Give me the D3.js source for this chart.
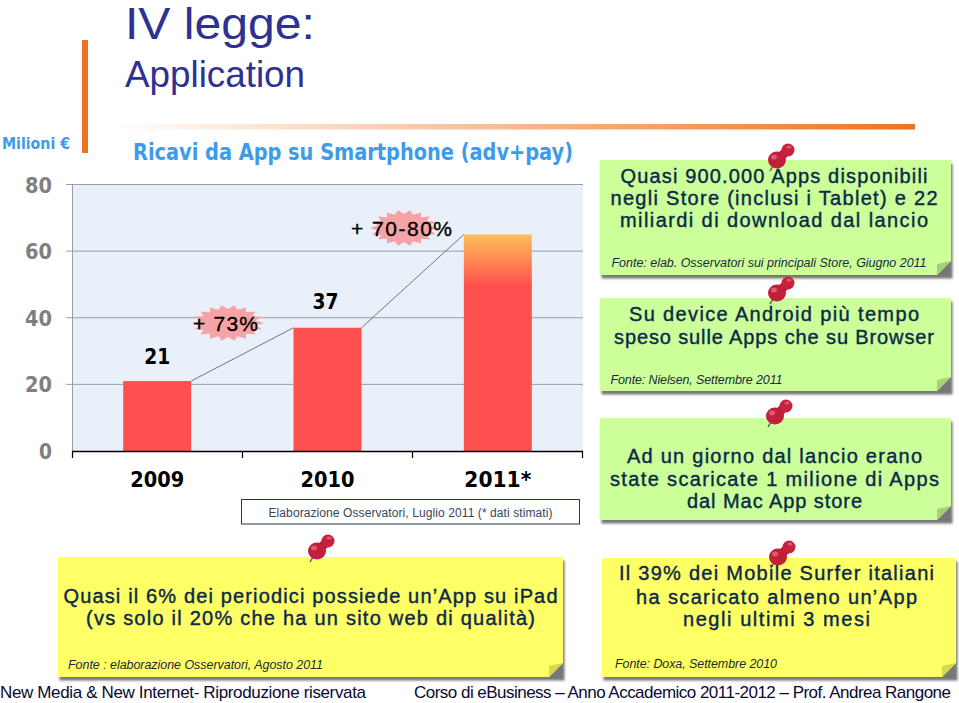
<!DOCTYPE html>
<html><head><meta charset="utf-8">
<script src="https://cdn.jsdelivr.net/npm/d3@7/dist/d3.min.js"></script>
<style>html,body{margin:0;padding:0;background:#fff}svg{display:block}text{font-family:"Liberation Sans",Arial,sans-serif}</style>
</head><body><div id="c"></div>
<script>
const years=["2009","2010","2011*"];
const revenues=[21,37,65];
const barLabels=["21","37",""];
const yTicks=[0,20,40,60,80];
const growth=[{t:"+ 73%",x:228,y:323,r:36,ry:18,tx:225.5,tl:65},{t:"+ 70-80%",x:404,y:228,r:34,ry:18,tx:401.5,tl:101}];
const notes=[
{x:600,y:160,w:351,h:115,c:"#ccff99",f:"#a8cf78",lines:["Quasi 900.000 Apps disponibili","negli Store (inclusi i Tablet) e 22","miliardi di download dal lancio"],ly:[182.5,205,227],cx:774,src:"Fonte: elab. Osservatori sui principali Store, Giugno 2011",sx:611.5,sy:267,sl:315,pin:[781,158],tl:[307,327,308]},
{x:600,y:298,w:351,h:93,c:"#ccff99",f:"#a8cf78",lines:["Su device Android più tempo","speso sulle Apps che su Browser"],ly:[321,344],cx:774,src:"Fonte: Nielsen, Settembre 2011",sx:610.5,sy:384,sl:172,pin:[781,291],tl:[290,320]},
{x:600,y:418,w:351,h:102,c:"#ccff99",f:"#a8cf78",lines:["Ad un giorno dal lancio erano","state scaricate 1 milione di Apps","dal Mac App store"],ly:[463,486,508],cx:774.5,src:"",pin:[779,414],tl:[295,329,175]},
{x:58,y:557,w:505,h:120,c:"#ffff66",f:"#d8d84c",lines:["Quasi il 6% dei periodici possiede un’App su iPad","(vs solo il 20% che ha un sito web di qualità)"],ly:[603,625],cx:310.5,src:"Fonte : elaborazione Osservatori, Agosto 2011",sx:68,sy:669,sl:255,pin:[321,549],tl:[494,449]},
{x:602,y:558,w:354,h:119,c:"#ffff66",f:"#d8d84c",lines:["Il 39% dei Mobile Surfer italiani","ha scaricato almeno un’App","negli ultimi 3 mesi"],ly:[580,604,626],cx:776.5,src:"Fonte: Doxa, Settembre 2010",sx:615,sy:668,sl:162,pin:[782,555],tl:[315,281,187]}
];
const svg=d3.select("#c").append("svg").attr("width",959).attr("height",703);
const defs=svg.append("defs");
const rule=defs.append("linearGradient").attr("id","rule");
rule.append("stop").attr("offset","0").attr("stop-color","#fff");
rule.append("stop").attr("offset","1").attr("stop-color","#ee7320");
const bg=defs.append("linearGradient").attr("id","barTop").attr("x1",0).attr("x2",0).attr("y1",0).attr("y2",1);
bg.append("stop").attr("offset","0").attr("stop-color","#ffbf5a");
bg.append("stop").attr("offset","0.24").attr("stop-color","#ff5050");
bg.append("stop").attr("offset","1").attr("stop-color","#ff5050");
const sh=defs.append("filter").attr("id","blur").attr("x","-5%").attr("y","-5%").attr("width","110%").attr("height","115%");
sh.append("feGaussianBlur").attr("stdDeviation",1.3);

// header
svg.append("rect").attr("x",82).attr("y",40).attr("width",6).attr("height",113).attr("fill","#ee7320");
svg.append("rect").attr("x",110).attr("y",124).attr("width",805).attr("height",5.5).attr("fill","url(#rule)");
svg.append("text").attr("x",125).attr("y",39).attr("font-size",44).attr("fill","#2e3191").attr("textLength",190).attr("lengthAdjust","spacingAndGlyphs").text("IV legge:");
svg.append("text").attr("x",125).attr("y",87).attr("font-size",37).attr("fill","#2e3191").attr("textLength",180).attr("lengthAdjust","spacingAndGlyphs").text("Application");
svg.append("text").attr("x",2).attr("y",149).attr("font-size",16).attr("font-weight","bold").attr("fill","#3d9be9").style("font-family","'DejaVu Sans'").attr("textLength",68).attr("lengthAdjust","spacingAndGlyphs").text("Milioni €");
svg.append("text").attr("x",133).attr("y",160).attr("font-size",23).attr("font-weight","bold").attr("fill","#3d9be9").style("font-family","'DejaVu Sans'").attr("textLength",440).attr("lengthAdjust","spacingAndGlyphs").text("Ricavi da App su Smartphone (adv+pay)");

// chart
const y=d3.scaleLinear().domain([0,80]).range([451,184.5]);
const x=d3.scaleBand().domain(years).range([72,583]);
const barW=68;
svg.append("rect").attr("x",72).attr("y",y(80)).attr("width",511).attr("height",y(0)-y(80)).attr("fill","#e9f0f9");
const g=svg.append("g");
g.selectAll("line.grid").data(yTicks.filter(d=>d>0)).join("line").attr("x1",66).attr("x2",583)
 .attr("y1",d=>y(d)).attr("y2",d=>y(d)).attr("stroke","#9a9ea5").attr("stroke-width",1);
g.append("line").attr("x1",72.5).attr("x2",72.5).attr("y1",y(80)).attr("y2",y(0)).attr("stroke","#9a9ea5");
g.selectAll("text.yl").data(yTicks).join("text").attr("x",52).attr("y",d=>y(d)+8).attr("text-anchor","end")
 .attr("font-size",22).attr("font-weight","bold").attr("fill","#808080").style("font-family","'DejaVu Sans'").attr("textLength",d=>d?27:13).attr("lengthAdjust","spacingAndGlyphs").text(d=>d);
const cx=d=>x(d)+x.bandwidth()/2;
g.selectAll("rect.bar").data(years).join("rect").attr("x",d=>cx(d)-barW/2).attr("width",barW)
 .attr("y",(d,i)=>y(revenues[i])).attr("height",(d,i)=>y(0)-y(revenues[i]))
 .attr("fill",(d,i)=>i==2?"url(#barTop)":"#ff5050");
[0,1].forEach(i=>{
 g.append("line").attr("x1",cx(years[i])+barW/2).attr("y1",y(revenues[i])).attr("x2",cx(years[i+1])-barW/2).attr("y2",y(revenues[i+1])).attr("stroke","#555").attr("stroke-width",.8);
});
const ax=d3.scaleLinear().domain([0,3]).range([72.5,582.5]);
g.append("line").attr("x1",72).attr("x2",583).attr("y1",451.5).attr("y2",451.5).attr("stroke","#000").attr("stroke-width",1.4);
g.selectAll("line.t").data(d3.range(4)).join("line").attr("x1",d=>ax(d)).attr("x2",d=>ax(d)).attr("y1",451).attr("y2",458).attr("stroke","#000").attr("stroke-width",1.2);
g.selectAll("text.xl").data(years).join("text").attr("x",d=>cx(d)).attr("y",487).attr("text-anchor","middle")
 .attr("font-size",22).attr("font-weight","bold").attr("fill","#000").style("font-family","'DejaVu Sans'").attr("textLength",(d,i)=>i==2?67:54).attr("lengthAdjust","spacingAndGlyphs").text(d=>d);
g.selectAll("text.vl").data(barLabels).join("text").attr("x",(d,i)=>cx(years[i])-(i==0?0:2)).attr("y",(d,i)=>[364,309,0][i]).attr("text-anchor","middle")
 .attr("font-size",22).attr("font-weight","bold").style("font-family","'DejaVu Sans'").attr("textLength",d=>d?26:0).attr("lengthAdjust","spacingAndGlyphs").text(d=>d);
function burst(cxx,cyy,rx,ry,n){const pts=[];for(let i=0;i<n*2;i++){const a=i*Math.PI/n,k=i%2?0.78:1;pts.push([cxx+rx*k*Math.cos(a),cyy+ry*k*Math.sin(a)]);}return d3.line()(pts)+"Z";}
growth.forEach(b=>{
 svg.append("path").attr("d",burst(b.x,b.y,b.r,b.ry,18)).attr("fill","#f5a3a6");
 svg.append("text").attr("x",b.tx).attr("y",b.y+8).attr("text-anchor","middle").attr("font-size",21).attr("fill","#000").attr("stroke","#000").attr("stroke-width",.35).attr("textLength",b.tl).text(b.t);
});
svg.append("rect").attr("x",241.5).attr("y",499.5).attr("width",338).attr("height",24.5).attr("fill","#fff").attr("stroke","#1f3a55").attr("stroke-width",1);
svg.append("text").attr("x",410.5).attr("y",517).attr("text-anchor","middle").attr("font-size",12).attr("fill","#33475b").attr("textLength",284).text("Elaborazione Osservatori, Luglio 2011 (* dati stimati)");

function pin(px,py){
 const p=svg.append("g").attr("transform",`translate(${px},${py})`);
 p.append("path").attr("d","M-8,8 L-11,13").attr("stroke","#555").attr("stroke-width",1.4);
 p.append("path").attr("d","M-4,2 L7,-8").attr("stroke","#b81c38").attr("stroke-width",9);
 p.append("ellipse").attr("cx",7).attr("cy",-8).attr("rx",6.5).attr("ry",6.5).attr("fill","#c8213e");
 p.append("ellipse").attr("cx",-4).attr("cy",2).attr("rx",9).attr("ry",8.5).attr("fill","#c21f3a");
 p.append("ellipse").attr("cx",-7).attr("cy",-1).attr("rx",3).attr("ry",2.5).attr("fill","#de5a72");
 p.append("ellipse").attr("cx",8).attr("cy",-11).attr("rx",2.5).attr("ry",1.6).attr("fill","#de5a72");
}
notes.forEach(n=>{
 svg.append("rect").attr("x",n.x+1.5).attr("y",n.y+3.5).attr("width",n.w).attr("height",n.h).attr("fill","#777").attr("filter","url(#blur)");
 const f=14;
 svg.append("path").attr("d",`M${n.x},${n.y}H${n.x+n.w}V${n.y+n.h-f}L${n.x+n.w-f},${n.y+n.h}H${n.x}Z`).attr("fill",n.c);
 svg.append("path").attr("d",`M${n.x+n.w},${n.y+n.h-f}L${n.x+n.w-f},${n.y+n.h-f+3}L${n.x+n.w-f},${n.y+n.h}Z`).attr("fill",n.f);
 n.lines.forEach((l,i)=>{
  svg.append("text").attr("x",n.cx).attr("y",n.ly[i]).attr("text-anchor","middle").attr("font-size",20).attr("fill","#0b2a4a").attr("stroke","#0b2a4a").attr("stroke-width",.4).attr("textLength",n.tl[i]).text(l);
 });
 if(n.src) svg.append("text").attr("x",n.sx).attr("y",n.sy).attr("font-size",12.5).attr("font-style","italic").attr("fill","#1a2a3a").attr("textLength",n.sl).text(n.src);
 pin(n.pin[0],n.pin[1]);
});
svg.append("text").attr("x",0).attr("y",698).attr("font-size",17).attr("fill","#0a0a30").attr("textLength",366).text("New Media & New Internet- Riproduzione riservata");
svg.append("text").attr("x",414).attr("y",698).attr("font-size",17).attr("fill","#0a0a30").attr("textLength",537).text("Corso di eBusiness – Anno Accademico 2011-2012 – Prof. Andrea Rangone");
</script></body></html>
